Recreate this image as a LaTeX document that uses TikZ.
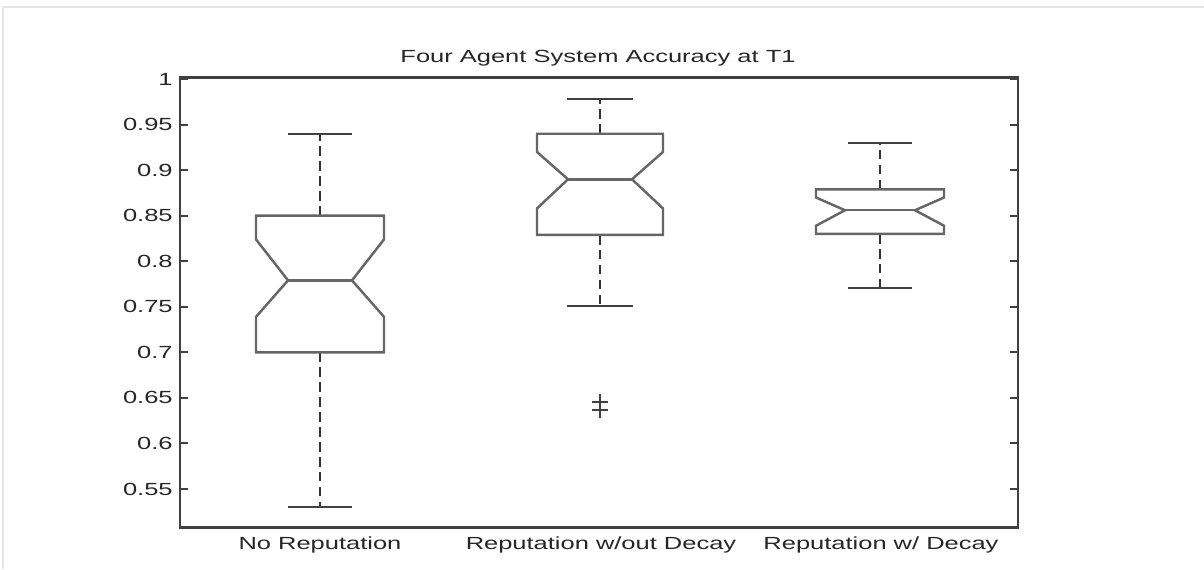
\documentclass[tikz,border=0pt]{standalone}
\usepackage{fontspec}
\setmainfont{Liberation Sans}
\usepackage{graphicx}
\newcommand{\allarga}[1]{\scalebox{1.45}[1]{#1}}

\begin{document}
\begin{tikzpicture}[x=0.02cm, y=0.02cm]
    % Stili
    \tikzstyle{frame}=[draw=black!10, line width=0.8pt]
    \tikzstyle{axis}=[draw=black!75, line width=1.5pt]
    \tikzstyle{ticky}=[draw=black!75, line width=1.1pt]
    \tikzstyle{box}=[draw=black!60, line width=1.4pt, line join=miter]
    \tikzstyle{whisk}=[draw=black!80, line width=1.5pt, dash pattern=on 5.5pt off 3pt]
    \tikzstyle{capline}=[draw=black!75, line width=1.3pt]
    \tikzstyle{outl}=[draw=black!75, line width=1.1pt]
    \tikzstyle{lbl}=[text=black!85, inner sep=0pt, font=\fontsize{10}{12}\selectfont]

    \useasboundingbox (0,0) rectangle (1204,569);

    % Cornice leggera
    \draw[frame] (3,0) -- (3,562) -- (1204,562);

    % Titolo
    \node[lbl] (title) at (598,511) {\allarga{Four Agent System Accuracy at T1}};

    % Etichette dei gruppi
    \node[lbl] (lab1) at (320,24) {\allarga{No Reputation}};
    \node[lbl] (lab2) at (601,24) {\allarga{Reputation w/out Decay}};
    \node[lbl] (lab3) at (881,24) {\allarga{Reputation w/ Decay}};

    \begin{scope}[y=18.22cm, yshift=-8.42cm]
        % Assi
        \draw[axis] (180,0.508) rectangle (1018,1.002);
        \foreach \v/\t [count=\i] in {0.55/0.55, 0.6/0.6, 0.65/0.65, 0.7/0.7, 0.75/0.75, 0.8/0.8, 0.85/0.85, 0.9/0.9, 0.95/0.95, 1/1} {
            \draw[ticky] (180,\v) -- (188,\v);
            \draw[ticky] (1018,\v) -- (1010,\v);
            \node[lbl, anchor=east] (yl\i) at (173,\v) {\allarga{\t}};
        }

        % No Reputation
        \draw[whisk] (320,0.85) -- (320,0.94);
        \draw[whisk] (320,0.70) -- (320,0.53);
        \draw[capline] (288,0.94) -- (352,0.94);
        \draw[capline] (288,0.53) -- (352,0.53);
        \draw[box] (256,0.85) -- (384,0.85) -- (384,0.824) -- (352,0.779) -- (384,0.739) -- (384,0.70)
            -- (256,0.70) -- (256,0.739) -- (288,0.779) -- (256,0.824) -- cycle;
        \draw[box] (288,0.779) -- (352,0.779);

        % Reputation w/out Decay
        \draw[whisk] (600,0.94) -- (600,0.978);
        \draw[whisk] (600,0.829) -- (600,0.751);
        \draw[capline] (567,0.978) -- (633,0.978);
        \draw[capline] (567,0.751) -- (633,0.751);
        \draw[box] (537,0.94) -- (663,0.94) -- (663,0.92) -- (632,0.89) -- (663,0.858) -- (663,0.829)
            -- (537,0.829) -- (537,0.858) -- (568,0.89) -- (537,0.92) -- cycle;
        \draw[box] (568,0.89) -- (632,0.89);
        % Valori anomali
        \draw[outl] (592,0.645) -- (608,0.645);
        \draw[outl] (592,0.637) -- (608,0.637);
        \draw[outl] (600,0.654) -- (600,0.628);

        % Reputation w/ Decay
        \draw[whisk] (880,0.879) -- (880,0.93);
        \draw[whisk] (880,0.830) -- (880,0.771);
        \draw[capline] (848,0.93) -- (912,0.93);
        \draw[capline] (848,0.771) -- (912,0.771);
        \draw[box] (816,0.879) -- (944,0.879) -- (944,0.870) -- (915,0.856) -- (944,0.839) -- (944,0.830)
            -- (816,0.830) -- (816,0.839) -- (845,0.856) -- (816,0.870) -- cycle;
        \draw[box] (845,0.856) -- (915,0.856);
    \end{scope}
\end{tikzpicture}
\end{document}
